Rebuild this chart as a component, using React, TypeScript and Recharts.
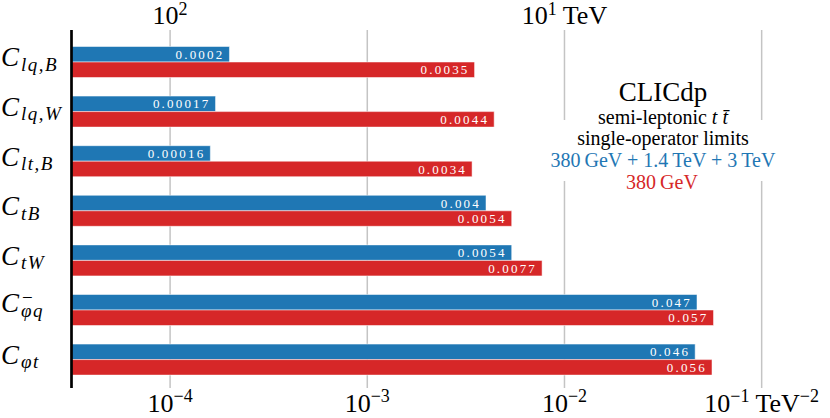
import React from "react";
import { BarChart, Bar, XAxis, YAxis, CartesianGrid, LabelList } from "recharts";

// operators: subscript / superscript of C
const opSub = ["lq,B", "lq,W", "lt,B", "tB", "tW", "φq", "φt"];
const opSup = ["", "", "", "", "", "−", ""];
// limits in TeV^-2
const limitsAll = [0.0002, 0.00017, 0.00016, 0.004, 0.0054, 0.047, 0.046];
const limits380 = [0.0035, 0.0044, 0.0034, 0.0054, 0.0077, 0.057, 0.056];
const bottomTicks = [1e-4, 1e-3, 1e-2, 1e-1];
const topTicks = [1e-4, 1e-2]; // 10^2 TeV, 10^1 TeV

const BLUE = "#1f77b4";
const RED = "#d62728";
const SERIF = "'Liberation Serif', 'DejaVu Serif', serif";
const DOMAIN = [Math.pow(10, -4.5), Math.pow(10, -0.8)];

const data = opSub.map((s, i) => ({
  name: s + opSup[i],
  all: limitsAll[i],
  r380: limits380[i],
}));

const OperatorTick = (props: any) => {
  const { y, payload } = props;
  const i = payload.index;
  const sup = opSup[i];
  const base = y + (sup ? 2 : 4);
  return (
    <g fontFamily={SERIF}>
      <text x={1} y={base} fontSize={27} fontStyle="italic" fill="#000">C</text>
      {sup && <text x={22} y={base - 8} fontSize={19} fill="#000">{sup}</text>}
      <text x={21} y={base + 4.5} fontSize={19} fontStyle="italic" letterSpacing={1.5} fill="#000">
        {opSub[i]}
      </text>
    </g>
  );
};

const BottomTick = (props: any) => {
  const { x, y, payload } = props;
  const e = Math.round(Math.log10(payload.value));
  const last = e === -1;
  return (
    <text x={x} y={y + 24} textAnchor="middle" fontFamily={SERIF} fill="#000" fontSize={26}>
      10<tspan fontSize={18} dy={-10}>{"−" + Math.abs(e)}</tspan>
      {last && <tspan dy={10}>{" TeV"}</tspan>}
      {last && <tspan fontSize={18} dy={-10}>−2</tspan>}
    </text>
  );
};

const TopTick = (props: any) => {
  const { x, y, payload } = props;
  const e = -Math.round(Math.log10(payload.value)) / 2;
  return (
    <text x={x} y={y - 6} textAnchor="middle" fontFamily={SERIF} fill="#000" fontSize={26}>
      10<tspan fontSize={18} dy={-9}>{e}</tspan>
      {e === 1 && <tspan dy={9}>{" TeV"}</tspan>}
    </text>
  );
};

const BarValue = (props: any) => {
  const { x, y, width, height, value } = props;
  return (
    <text
      x={x + width - 5}
      y={y + height / 2}
      dy="0.35em"
      textAnchor="end"
      fill="#fff"
      fontFamily={SERIF}
      fontSize={13}
      letterSpacing={2.2}
    >
      {String(value)}
    </text>
  );
};

export default function App() {
  return (
    <div style={{ position: "absolute", left: 0, top: 0, width: 830, height: 418, background: "#fff" }}>
      <BarChart
        width={830}
        height={418}
        data={data}
        layout="vertical"
        margin={{ top: 0, right: 28.9, bottom: 0, left: 0 }}
        barGap={0}
        barSize={15.5}
      >
        <CartesianGrid horizontal={false} stroke="#c4c4c4" strokeWidth={1.5} syncWithTicks />
        <XAxis
          type="number"
          scale="log"
          domain={DOMAIN}
          allowDataOverflow
          ticks={bottomTicks}
          axisLine={false}
          tickLine={false}
          tickSize={0}
          tickMargin={0}
          height={30}
          tick={<BottomTick />}
          interval={0}
        />
        <XAxis
          xAxisId="top"
          orientation="top"
          type="number"
          scale="log"
          domain={DOMAIN}
          allowDataOverflow
          ticks={topTicks}
          axisLine={false}
          tickLine={false}
          tickSize={0}
          tickMargin={0}
          height={30}
          tick={<TopTick />}
          interval={0}
        />
        <YAxis
          type="category"
          dataKey="name"
          width={71.5}
          padding={{ top: 7.5, bottom: 3.3 }}
          axisLine={{ stroke: "#000", strokeWidth: 2.7 }}
          tickLine={false}
          tick={<OperatorTick />}
          interval={0}
        />
        <Bar dataKey="all" fill={BLUE} stroke="#fff" strokeOpacity={0.5} strokeWidth={1} isAnimationActive={false}>
          <LabelList dataKey="all" content={<BarValue />} />
        </Bar>
        <Bar dataKey="r380" fill={RED} stroke="#fff" strokeOpacity={0.5} strokeWidth={1} isAnimationActive={false}>
          <LabelList dataKey="r380" content={<BarValue />} />
        </Bar>
      </BarChart>
      <svg
        width={830}
        height={418}
        style={{ position: "absolute", left: 0, top: 0, pointerEvents: "none" }}
        fontFamily={SERIF}
      >
        <rect x={546} y={120} width={234} height={61} fill="#fff" />
        <text x={663} y={101} textAnchor="middle" fontSize={27} fill="#000">CLICdp</text>
        <text x={663} y={124} textAnchor="middle" fontSize={20} fill="#000">
          semi-leptonic <tspan fontStyle="italic">t</tspan> <tspan fontStyle="italic">{"t\u0304"}</tspan>
        </text>
        <text x={663} y={145} textAnchor="middle" fontSize={20} fill="#000">single-operator limits</text>
        <text x={663} y={167} textAnchor="middle" fontSize={20} fill={BLUE}>
          {"380\u2009GeV + 1.4\u2009TeV + 3\u2009TeV"}
        </text>
        <text x={662} y={189} textAnchor="middle" fontSize={20} fill={RED}>
          {"380\u2009GeV"}
        </text>
      </svg>
    </div>
  );
}
